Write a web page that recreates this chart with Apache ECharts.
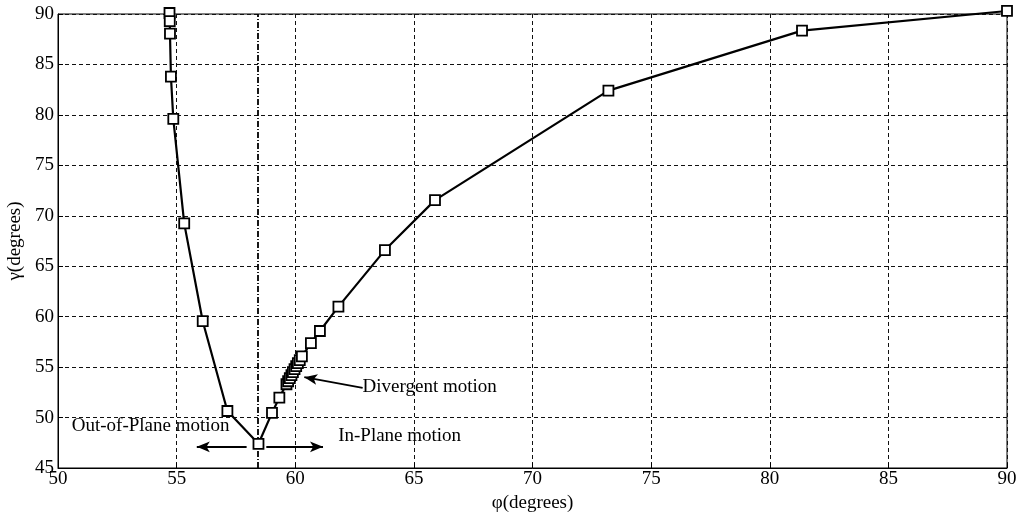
<!DOCTYPE html>
<html>
<head>
<meta charset="utf-8">
<script src="https://cdn.jsdelivr.net/npm/echarts@6/dist/echarts.min.js"></script>
<style>html,body{margin:0;padding:0;background:#fff}#c{width:1020px;height:515px}</style>
</head>
<body>
<div id="c"></div>
<script>
// phi (x) and gamma (y) values, in the order the curve is traced
const phi   = [54.70, 54.71, 54.72, 54.76, 54.86, 55.32, 56.10, 57.14, 58.45, 59.02, 59.33, 59.63, 59.70, 59.77, 59.84, 59.90, 59.97, 60.04, 60.11, 60.19, 60.28, 60.66, 61.04, 61.82, 63.78, 65.89, 73.20, 81.36, 90.00];
const gamma = [90.10, 89.30, 88.05, 83.80, 79.60, 69.25, 59.55, 50.65, 47.40, 50.46, 51.98, 53.30, 53.60, 53.90, 54.20, 54.50, 54.80, 55.10, 55.40, 55.70, 56.06, 57.38, 58.58, 61.00, 66.60, 71.55, 82.40, 88.35, 90.30];
const xTicks = [50, 55, 60, 65, 70, 75, 80, 85, 90];
const yTicks = [45, 50, 55, 60, 65, 70, 75, 80, 85, 90];
const splitPhi = 58.43;
const outArrow = [[57.95, 47.1], [55.85, 47.1]];
const inArrow = [[58.78, 47.1], [61.17, 47.1]];
const divArrow = [[62.84, 52.95], [60.38, 54.0]];
const notes = [
  {text: 'Out-of-Plane motion', x: 50.6, y: 49.07},
  {text: 'In-Plane motion', x: 61.83, y: 48.08},
  {text: 'Divergent motion', x: 62.86, y: 53.0}
];
const xName = 'φ(degrees)';
const yName = 'γ(degrees)';

const font = 'Liberation Serif';
const chart = echarts.init(document.getElementById('c'));
const gridLine = {show: true, lineStyle: {color: '#111', type: [4, 3], width: 1}};
chart.setOption({
  animation: false,
  backgroundColor: '#fff',
  grid: {left: 58, right: 13, top: 14, bottom: 47, containLabel: false, outerBoundsMode: 'none', show: true, borderColor: '#000', borderWidth: 1, backgroundColor: 'transparent'},
  xAxis: {
    type: 'value', min: xTicks[0], max: xTicks[xTicks.length - 1], interval: 5,
    name: xName, nameLocation: 'middle', nameGap: 26,
    nameTextStyle: {fontFamily: font, fontSize: 19, color: '#000'},
    axisLine: {show: true, lineStyle: {color: '#000'}},
    axisTick: {show: true, inside: true, length: 5, lineStyle: {color: '#000'}},
    axisLabel: {fontFamily: font, fontSize: 19, color: '#000', margin: 2},
    splitLine: gridLine
  },
  yAxis: {
    type: 'value', min: yTicks[0], max: yTicks[yTicks.length - 1], interval: 5,
    name: yName, nameLocation: 'middle', nameGap: 33, nameRotate: 90,
    nameTextStyle: {fontFamily: font, fontSize: 19, color: '#000'},
    axisLine: {show: true, lineStyle: {color: '#000'}},
    axisTick: {show: true, inside: true, length: 5, lineStyle: {color: '#000'}},
    axisLabel: {fontFamily: font, fontSize: 19, color: '#000', margin: 4},
    splitLine: gridLine
  },
  series: [
    {
      type: 'line',
      clip: false,
      data: phi.map((p, i) => [p, gamma[i]]),
      symbol: 'rect', symbolSize: 10,
      showSymbol: true,
      lineStyle: {color: '#000', width: 2.2},
      itemStyle: {color: '#fff', borderColor: '#000', borderWidth: 1.8},
      z: 5,
      markLine: {
        silent: true,
        symbol: ['none', 'none'],
        label: {show: false},
        data: [
          [{coord: [splitPhi, yTicks[0]]}, {coord: [splitPhi, yTicks[yTicks.length - 1]]}]
        ],
        lineStyle: {color: '#000', type: [6, 2, 1, 2], width: 1.8}
      }
    },
    {
      type: 'line',
      data: [],
      markLine: {
        silent: true,
        symbol: ['none', 'arrow'],
        symbolSize: [8, 13],
        label: {show: false},
        lineStyle: {color: '#000', type: 'solid', width: 1.8},
        data: [
          [{coord: outArrow[0]}, {coord: outArrow[1]}],
          [{coord: inArrow[0]}, {coord: inArrow[1]}],
          [{coord: divArrow[0]}, {coord: divArrow[1]}]
        ]
      }
    },
    {
      type: 'scatter',
      symbolSize: 1,
      silent: true,
      itemStyle: {opacity: 0},
      data: notes.map(n => ({value: [n.x, n.y], label: {formatter: n.text}})),
      label: {show: true, position: [0, 0], align: 'left', verticalAlign: 'middle', fontFamily: font, fontSize: 19, color: '#000', opacity: 1},
      z: 6
    }
  ]
});
</script>
</body>
</html>
